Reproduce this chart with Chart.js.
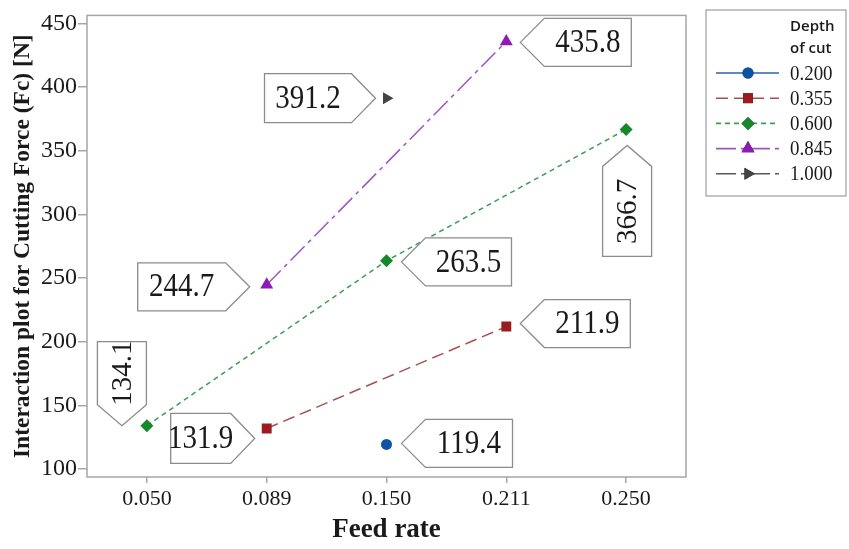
<!DOCTYPE html>
<html lang="en">
<head>
<meta charset="UTF-8">
<title>Interaction plot for Cutting Force</title>
<script src="https://cdn.jsdelivr.net/npm/chart.js"></script>
<style>
    html, body { margin: 0; padding: 0; background: #fff; }
    #wrap { width: 849px; height: 549px; }
</style>
</head>
<body>
<div id="wrap"><canvas id="forceChart" width="849" height="549"></canvas></div>
<script>
// feed rate levels on the x axis, one series per depth of cut
const feedRates = ['0.050', '0.089', '0.150', '0.211', '0.250'];
const depthLabels = ['0.200', '0.355', '0.600', '0.845', '1.000'];
const fcDepth200 = [null, null, 119.4, null, null];
const fcDepth355 = [null, 131.9, null, 211.9, null];
const fcDepth600 = [134.1, null, 263.5, null, 366.7];
const fcDepth845 = [null, 244.7, null, 435.8, null];
const fcDepth1000 = [null, null, 391.2, null, null];
const yTicks = [100, 150, 200, 250, 300, 350, 400, 450];

const seriesValues = [fcDepth200, fcDepth355, fcDepth600, fcDepth845, fcDepth1000];

const seriesStyle = [
    { line: '#2a62aa', mark: '#0c53a5', dash: [], point: 'circle', radius: 5.5, rot: 0 },
    { line: '#a5524f', mark: '#9b1b1e', dash: [12, 6], point: 'rect', radius: 7, rot: 0 },
    { line: '#3f9b57', mark: '#13892c', dash: [5, 4], point: 'rectRot', radius: 6.5, rot: 0 },
    { line: '#9b56c3', mark: '#8d1cb6', dash: [20, 5, 4, 5], point: 'triangle', radius: 7.5, rot: 0 },
    { line: '#5a5a5a', mark: '#444444', dash: [20, 5, 4, 5], point: 'triangle', radius: 7, rot: 90 }
];

// callout boxes: which point, where the tip sits relative to it and which way it points
const callouts = [
    { ds: 4, idx: 2, dx: -11, dy: 0, dir: 'right', len: 111, thick: 49 },
    { ds: 3, idx: 3, dx: 14, dy: 1, dir: 'left', len: 111, thick: 48 },
    { ds: 2, idx: 4, dx: 1, dy: 16, dir: 'up', len: 111, thick: 49 },
    { ds: 2, idx: 2, dx: 15, dy: 1, dir: 'left', len: 110, thick: 48 },
    { ds: 1, idx: 3, dx: 14, dy: -3, dir: 'left', len: 110, thick: 48 },
    { ds: 0, idx: 2, dx: 15, dy: -1, dir: 'left', len: 111, thick: 48 },
    { ds: 3, idx: 1, dx: -17, dy: 2, dir: 'right', len: 112, thick: 48 },
    { ds: 2, idx: 0, dx: -25, dy: 0, dir: 'down', len: 84, thick: 49 },
    { ds: 1, idx: 1, dx: -12, dy: 10, dir: 'right', len: 84, thick: 50 }
];

const serif = "'Liberation Serif', 'Times New Roman', serif";
const frameColor = '#a6a6a6';

function drawScaledText(ctx, text, x, y, font, sx, align) {
    ctx.save();
    ctx.translate(x, y);
    ctx.scale(sx, 1);
    ctx.font = font;
    ctx.textAlign = align;
    ctx.textBaseline = 'middle';
    ctx.fillText(text, 0, 0);
    ctx.restore();
}

const framePlugin = {
    id: 'frame',
    beforeDatasetsDraw(chart) {
        const { ctx, chartArea: a } = chart;
        ctx.save();
        ctx.strokeStyle = frameColor;
        ctx.lineWidth = 1.5;
        ctx.strokeRect(a.left, a.top, a.right - a.left, a.bottom - a.top);
        ctx.restore();
    }
};

const calloutPlugin = {
    id: 'callouts',
    afterDatasetsDraw(chart) {
        const ctx = chart.ctx;
        const angles = { right: 0, left: Math.PI, down: Math.PI / 2, up: -Math.PI / 2 };
        callouts.forEach(c => {
            const pt = chart.getDatasetMeta(c.ds).data[c.idx];
            const value = chart.data.datasets[c.ds].data[c.idx];
            const tx = pt.x + c.dx, ty = pt.y + c.dy;
            const tip = (c.dir === 'up' || c.dir === 'down') ? 21 : 24;
            const h = c.thick / 2;
            const ang = angles[c.dir];

            ctx.save();
            ctx.translate(tx, ty);
            ctx.rotate(ang);
            ctx.beginPath();
            ctx.moveTo(0, 0);
            ctx.lineTo(-tip, -h);
            ctx.lineTo(-c.len, -h);
            ctx.lineTo(-c.len, h);
            ctx.lineTo(-tip, h);
            ctx.closePath();
            ctx.fillStyle = '#ffffff';
            ctx.fill();
            ctx.strokeStyle = '#8c8c8c';
            ctx.lineWidth = 1.3;
            ctx.stroke();
            ctx.restore();

            const mid = (tip + c.len) / 2;
            const cx = tx - Math.cos(ang) * mid;
            const cy = ty - Math.sin(ang) * mid;
            ctx.save();
            ctx.fillStyle = '#1a1a1a';
            if (c.dir === 'up' || c.dir === 'down') {
                ctx.translate(cx, cy);
                ctx.rotate(-Math.PI / 2);
                drawScaledText(ctx, value.toFixed(1), 0, 1, '29px ' + serif, 1, 'center');
            } else {
                drawScaledText(ctx, value.toFixed(1), cx, cy + 1, '33px ' + serif, 0.88, 'center');
            }
            ctx.restore();
        });
    }
};

const legendPlugin = {
    id: 'depthLegend',
    afterDraw(chart) {
        const ctx = chart.ctx;
        const box = { left: 706, top: 10, right: 846, bottom: 196 };
        ctx.save();
        ctx.strokeStyle = frameColor;
        ctx.lineWidth = 1.3;
        ctx.strokeRect(box.left, box.top, box.right - box.left, box.bottom - box.top);

        ctx.fillStyle = '#1a1a1a';
        ctx.textBaseline = 'alphabetic';
        ctx.font = "600 15px 'Open Sans', sans-serif";
        ctx.textAlign = 'left';
        ctx.fillText('Depth', 790, 31);
        ctx.fillText('of cut', 790, 53);

        chart.data.datasets.forEach((d, i) => {
            const st = seriesStyle[i];
            const y = 73 + i * 25.2;
            ctx.save();
            ctx.strokeStyle = st.line;
            ctx.lineWidth = 1.6;
            ctx.setLineDash(st.dash);
            ctx.beginPath();
            ctx.moveTo(716, y);
            ctx.lineTo(779, y);
            ctx.stroke();
            ctx.restore();
            Chart.helpers.drawPoint(ctx, {
                pointStyle: st.point,
                radius: st.radius,
                rotation: st.rot,
                borderWidth: 0
            }, 748, y);
            ctx.fillStyle = st.mark;
            ctx.fill();
            ctx.fillStyle = '#1a1a1a';
            drawScaledText(ctx, d.label, 790, y + 1, '21px ' + serif, 0.9, 'left');
        });
        ctx.restore();
    }
};

const datasets = depthLabels.map((label, i) => ({
    label: label,
    data: seriesValues[i],
    borderColor: seriesStyle[i].line,
    backgroundColor: seriesStyle[i].mark,
    pointBackgroundColor: seriesStyle[i].mark,
    pointBorderColor: seriesStyle[i].mark,
    pointBorderWidth: 0,
    pointStyle: seriesStyle[i].point,
    pointRadius: seriesStyle[i].radius,
    pointRotation: seriesStyle[i].rot,
    borderWidth: 1.5,
    borderDash: seriesStyle[i].dash,
    spanGaps: true,
    tension: 0,
    fill: false
}));

new Chart(document.getElementById('forceChart'), {
    type: 'line',
    data: { labels: feedRates, datasets: datasets },
    options: {
        responsive: false,
        animation: false,
        layout: { padding: { left: 0, right: 163, top: 10, bottom: 0 } },
        plugins: {
            legend: { display: false },
            tooltip: { enabled: false }
        },
        scales: {
            x: {
                type: 'category',
                offset: true,
                border: { display: false },
                grid: { drawOnChartArea: false, drawTicks: true, tickLength: 6, color: frameColor, lineWidth: 1.5 },
                ticks: { color: '#1a1a1a', font: { family: serif, size: 22 }, padding: 3, maxRotation: 0 },
                title: {
                    display: true,
                    text: 'Feed rate',
                    color: '#1a1a1a',
                    font: { family: serif, size: 27, weight: 'bold' },
                    padding: { top: 0, bottom: 3 }
                },
                afterFit(scale) { scale.height = 72; }
            },
            y: {
                min: 93.8,
                max: 456.2,
                border: { display: false },
                grid: { drawOnChartArea: false, drawTicks: true, tickLength: 9, color: frameColor, lineWidth: 1.5 },
                ticks: { color: '#1a1a1a', font: { family: serif, size: 24 }, padding: 1 },
                afterBuildTicks(scale) { scale.ticks = yTicks.map(v => ({ value: v })); },
                title: {
                    display: true,
                    text: 'Interaction plot for Cutting Force (Fc) [N]',
                    color: '#1a1a1a',
                    font: { family: serif, size: 23.5, weight: 'bold' },
                    padding: { top: 9, bottom: 0 }
                },
                afterFit(scale) { scale.width = 87; }
            }
        }
    },
    plugins: [framePlugin, calloutPlugin, legendPlugin]
});
</script>
</body>
</html>
